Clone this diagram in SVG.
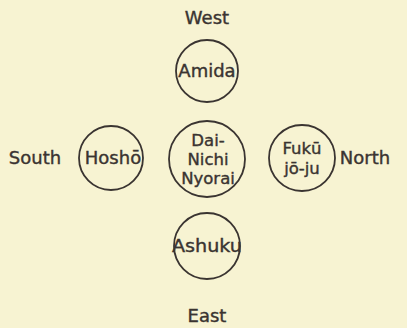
<svg xmlns="http://www.w3.org/2000/svg" width="407" height="328" viewBox="0 0 407 328">
<style>
.bg{fill:#f7f3d2}
.node circle{fill:none;stroke:#3a3431;stroke-width:1.8}
text{font-family:"DejaVu Sans","Liberation Sans",sans-serif;font-size:18px;fill:#3a3431;stroke:#3a3431;stroke-width:0.4;text-anchor:middle}
text.ml{font-size:16.5px}
</style>
<rect class="bg" x="0" y="0" width="407" height="328"/>
<g id="connectors"></g>
<g id="west-label"><text x="207" y="24">West</text></g>
<g id="amida" class="node"><circle cx="207" cy="71" r="31"/><text x="207" y="77">Amida</text></g>
<g id="dainichi" class="node"><circle cx="207" cy="159" r="38"/><text class="ml" x="208" y="146">Dai-</text><text class="ml" x="208" y="165">Nichi</text><text class="ml" x="208" y="184">Nyorai</text></g>
<g id="hosho" class="node"><circle cx="111" cy="158" r="32"/><text x="113" y="164">Hoshō</text></g>
<g id="south-label"><text x="35" y="164">South</text></g>
<g id="fukujoju" class="node"><circle cx="302" cy="158" r="33"/><text class="ml" x="302" y="154">Fukū</text><text class="ml" x="302" y="174">jō-ju</text></g>
<g id="north-label"><text x="365" y="164">North</text></g>
<g id="ashuku" class="node"><circle cx="207" cy="246" r="33"/><text x="207" y="252" textLength="70" lengthAdjust="spacingAndGlyphs">Ashuku</text></g>
<g id="east-label"><text x="207" y="322">East</text></g>
</svg>
